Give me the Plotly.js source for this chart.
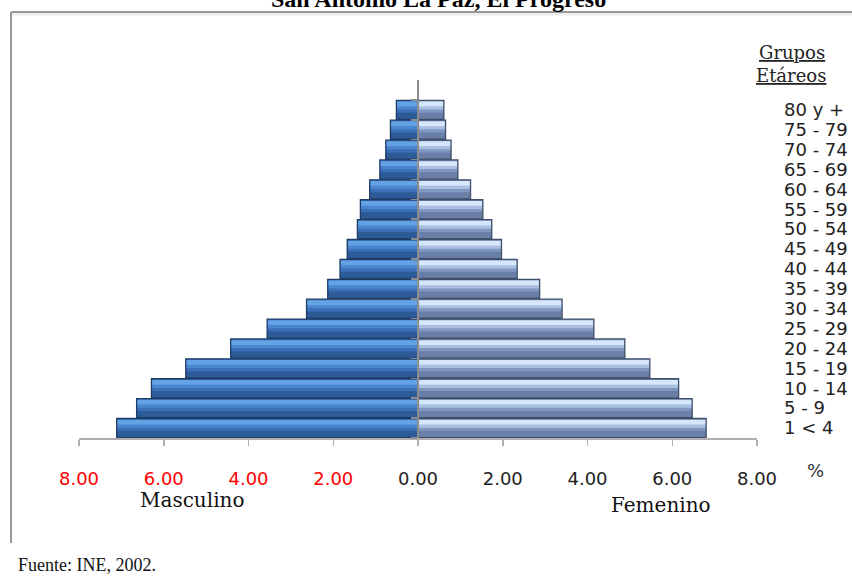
<!DOCTYPE html>
<html>
<head>
<meta charset="utf-8">
<script src="https://cdn.plot.ly/plotly-3.0.1.min.js"></script>
<style>
html,body{margin:0;padding:0;background:#fff;}
#chart{width:852px;height:579px;}
</style>
</head>
<body>
<div id="chart"></div>
<script>
// Age groups, bottom to top
var grupos = ["1 < 4","5 - 9","10 - 14","15 - 19","20 - 24","25 - 29","30 - 34","35 - 39","40 - 44","45 - 49","50 - 54","55 - 59","60 - 64","65 - 69","70 - 74","75 - 79","80 y +"];
// Percent of population
var masculino = [7.11, 6.64, 6.29, 5.48, 4.42, 3.56, 2.63, 2.13, 1.84, 1.67, 1.43, 1.36, 1.14, 0.90, 0.76, 0.65, 0.51];
var femenino  = [6.80, 6.47, 6.15, 5.47, 4.88, 4.15, 3.40, 2.87, 2.34, 1.97, 1.74, 1.53, 1.24, 0.94, 0.78, 0.65, 0.61];
// x tick values and labels
var xTickVals = [-8, -6, -4, -2, 0, 2, 4, 6, 8];
var xTickLabels = ["8.00","6.00","4.00","2.00","0.00","2.00","4.00","6.00","8.00"];

var mascNeg = masculino.map(function(v){ return -v; });

function layers(xvals, cols, name){
  var base = {type:'bar', orientation:'h', y:grupos, x:xvals, width:0.96,
    marker:{color:cols.mid, line:{width:0}}, hoverinfo:'x+y', name:name, showlegend:false};
  var shade = {type:'bar', orientation:'h', y:grupos, x:xvals, width:0.34, offset:-0.48,
    marker:{color:cols.dark, line:{width:0}}, hoverinfo:'skip', showlegend:false};
  var hi2 = {type:'bar', orientation:'h', y:grupos, x:xvals, width:0.18, offset:0.02,
    marker:{color:cols.light2, line:{width:0}}, hoverinfo:'skip', showlegend:false};
  var hi = {type:'bar', orientation:'h', y:grupos, x:xvals, width:0.24, offset:0.18,
    marker:{color:cols.light, line:{width:0}}, hoverinfo:'skip', showlegend:false};
  var outline = {type:'bar', orientation:'h', y:grupos, x:xvals, width:0.96,
    marker:{color:'rgba(0,0,0,0)', line:{width:1.3, color:cols.edge}}, hoverinfo:'skip', showlegend:false};
  return [base, shade, hi2, hi, outline];
}

var mCols = {mid:'#3b70b9', dark:'#2c5b98', light:'#64a2e6', light2:'#4a86cf', edge:'#1e3c66'};
var fCols = {mid:'#8098c0', dark:'#6a7fa7', light:'#d6e7fb', light2:'#a9c0e2', edge:'#3f4e6a'};

var data = [].concat(layers(mascNeg, mCols, 'Masculino'), layers(femenino, fCols, 'Femenino'));

// helper trace for the centre axis
var bounds = [];
for (var i = 0; i <= grupos.length; i++) bounds.push(i - 0.5);
data.push({type:'scatter', x:[0], y:[0], yaxis:'y2', mode:'markers', marker:{opacity:0}, hoverinfo:'skip', showlegend:false});

var ticktext = xTickLabels.map(function(t, i){
  return xTickVals[i] < 0 ? '<span style="fill:#ff0000">' + t + '</span>' : t;
});

var layout = {
  width:852, height:579,
  margin:{l:79, r:95, t:80, b:141, pad:0},
  paper_bgcolor:'#ffffff', plot_bgcolor:'#ffffff',
  barmode:'overlay',
  showlegend:false,
  xaxis:{
    range:[-8, 8], tickmode:'array', tickvals:xTickVals, ticktext:ticktext,
    showline:true, linecolor:'#b0b0b0', linewidth:1.5,
    ticks:'outside', ticklen:6, tickcolor:'#b0b0b0', tickwidth:1.5,
    showgrid:false, zeroline:false, ticklabelstandoff:18,
    tickfont:{family:'DejaVu Sans', size:18, color:'#222222'},
    fixedrange:true
  },
  yaxis:{
    type:'category', categoryorder:'array', categoryarray:grupos,
    tickmode:'linear', tick0:0, dtick:1,
    range:[-0.5, 17.5], side:'right', showline:false, ticks:'', showgrid:false, zeroline:false,
    ticklabelstandoff:26,
    tickfont:{family:'DejaVu Sans', size:18, color:'#222222'},
    fixedrange:true
  },
  yaxis2:{
    type:'linear', overlaying:'y', anchor:'free', position:0.5, side:'left',
    range:[-0.5, 17.5], showline:true, linecolor:'#8c8c8c', linewidth:2,
    ticks:'outside', tickmode:'array', tickvals:bounds, ticklen:6, tickcolor:'#8c8c8c', tickwidth:1.5,
    showticklabels:false, showgrid:false, zeroline:false, fixedrange:true
  },
  shapes:[
    {type:'line', xref:'paper', yref:'paper', x0:-0.1003, x1:1.1401, y0:1.1843, y1:1.1843, line:{color:'#ececec', width:3}},
    {type:'line', xref:'paper', yref:'paper', x0:-0.1003, x1:1.1401, y0:1.1899, y1:1.1899, line:{color:'#9a9a9a', width:2}},
    {type:'line', xref:'paper', yref:'paper', x0:-0.1003, x1:-0.1003, y0:1.1899, y1:-0.2933, line:{color:'#9a9a9a', width:2}}
  ],
  annotations:[
    {text:'<b>San Antonio La Paz, El Progreso</b>', xref:'paper', yref:'paper', x:0.5295, y:1.226, xanchor:'center', yanchor:'middle', showarrow:false,
     font:{family:'Liberation Serif', size:24, color:'#000000'}},
    {text:'<u>Grupos</u>', xref:'paper', yref:'paper', x:1.0516, y:1.0782, xanchor:'center', yanchor:'middle', showarrow:false,
     font:{family:'DejaVu Serif', size:18, color:'#222222'}},
    {text:'<u>Etáreos</u>', xref:'paper', yref:'paper', x:1.050, y:1.0112, xanchor:'center', yanchor:'middle', showarrow:false,
     font:{family:'DejaVu Serif', size:18, color:'#222222'}},
    {text:'%', xref:'paper', yref:'paper', x:1.087, y:-0.0894, xanchor:'center', yanchor:'middle', showarrow:false,
     font:{family:'DejaVu Sans', size:18, color:'#333333'}},
    {text:'Masculino', xref:'paper', yref:'paper', x:0.1674, y:-0.1732, xanchor:'center', yanchor:'middle', showarrow:false,
     font:{family:'DejaVu Serif', size:20, color:'#111111'}},
    {text:'Femenino', xref:'paper', yref:'paper', x:0.8584, y:-0.1872, xanchor:'center', yanchor:'middle', showarrow:false,
     font:{family:'DejaVu Serif', size:20, color:'#111111'}},
    {text:'Fuente: INE, 2002.', xref:'paper', yref:'paper', x:-0.0929, y:-0.3547, xanchor:'left', yanchor:'middle', showarrow:false,
     font:{family:'Liberation Serif', size:18, color:'#111111'}}
  ]
};

Plotly.newPlot('chart', data, layout, {displayModeBar:false, staticPlot:true});
</script>
</body>
</html>
